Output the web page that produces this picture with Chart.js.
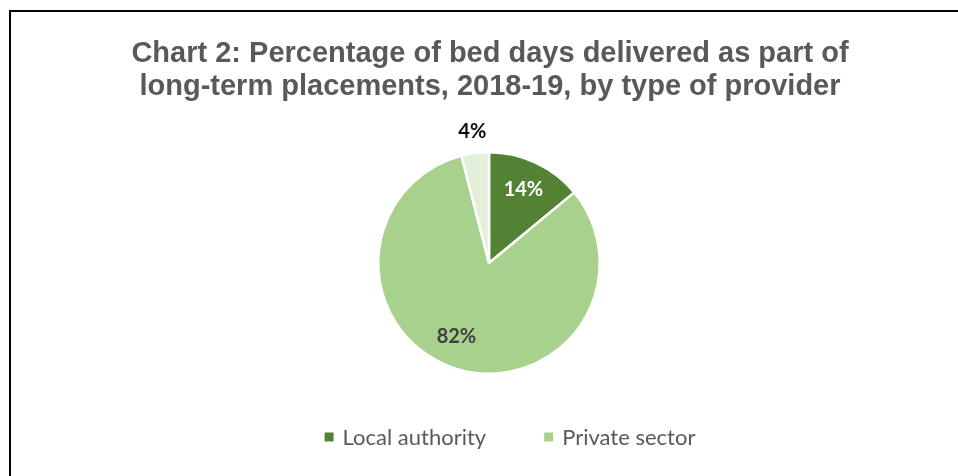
<!DOCTYPE html>
<html>
<head>
<meta charset="utf-8">
<script src="https://cdn.jsdelivr.net/npm/chart.js@4.4.0/dist/chart.umd.min.js"></script>
<style>
  html, body { margin: 0; padding: 0; background: #fff; }
  .wrap { position: relative; width: 958px; height: 476px; overflow: hidden; }
  .frame { position: absolute; left: 9px; top: 10px; width: 2000px; height: 2000px;
           border-left: 2px solid #000; border-top: 2px solid #000; box-sizing: border-box; }
  canvas { position: absolute; left: 0; top: 0; }
</style>
</head>
<body>
<div class="wrap">
  <div class="frame"></div>
  <canvas id="pieChart" width="958" height="476"></canvas>
</div>
<script>
// Bed days by provider type, 2018-19 (%)
const providers = ['Local authority', 'Private sector', 'Voluntary sector'];
const shares = [14, 82, 4];
const sliceColors = ['#548235', '#A9D18E', '#E2F0D9'];
const labelColors = ['#FFFFFF', '#404040', '#0D0D0D'];
const titleLines = ['Chart 2: Percentage of bed days delivered as part of', 'long-term placements, 2018-19, by type of provider'];
const legendItems = ['Local authority', 'Private sector'];

// two-line heading across the full width
const heading = {
    id: 'heading',
    afterDraw(chart) {
        const ctx = chart.ctx;
        ctx.save();
        ctx.font = 'bold 29px "Liberation Sans"';
        ctx.fillStyle = '#595959';
        ctx.textAlign = 'center';
        ctx.textBaseline = 'alphabetic';
        titleLines.forEach((t, i) => ctx.fillText(t, 490, 62 + i * 33));
        ctx.restore();
    }
};

// percentage labels: inside for the big slices, outside for the small one
const sliceLabels = {
    id: 'sliceLabels',
    afterDatasetsDraw(chart) {
        const ctx = chart.ctx;
        const arcs = chart.getDatasetMeta(0).data;
        ctx.save();
        ctx.font = 'bold 20px Lato';
        ctx.textAlign = 'center';
        ctx.textBaseline = 'middle';
        arcs.forEach((arc, i) => {
            let mid = (arc.startAngle + arc.endAngle) / 2;
            if (i === 1) mid += 0.1; // nudge the big slice's label toward the left
            const r = arc.outerRadius * (shares[i] < 8 ? 1.2 : 0.73);
            ctx.fillStyle = labelColors[i];
            ctx.fillText(shares[i] + '%', arc.x + Math.cos(mid) * r, arc.y + Math.sin(mid) * r);
        });
        ctx.restore();
    }
};

// legend for the two main providers only
const bottomLegend = {
    id: 'bottomLegend',
    afterDraw(chart) {
        const ctx = chart.ctx;
        ctx.save();
        ctx.font = '22px Lato';
        ctx.textBaseline = 'middle';
        const box = 9, gap = 9, itemGap = 58;
        const widths = legendItems.map(t => box + gap + ctx.measureText(t).width);
        const total = widths.reduce((a, b) => a + b, 0) + itemGap * (widths.length - 1);
        let x = 510 - total / 2;
        const y = 437;
        legendItems.forEach((t, i) => {
            ctx.fillStyle = sliceColors[i];
            ctx.fillRect(x, y - box / 2, box, box);
            ctx.fillStyle = '#595959';
            ctx.fillText(t, x + box + gap, y + 1);
            x += widths[i] + itemGap;
        });
        ctx.restore();
    }
};

new Chart(document.getElementById('pieChart'), {
    type: 'pie',
    data: {
        labels: providers,
        datasets: [{
            data: shares,
            backgroundColor: sliceColors,
            borderColor: '#FFFFFF',
            borderWidth: 2.5
        }]
    },
    options: {
        responsive: false,
        animation: false,
        layout: { padding: { left: 377, right: 357, top: 151, bottom: 101 } },
        plugins: {
            legend: { display: false },
            tooltip: { enabled: false },
            title: { display: false }
        }
    },
    plugins: [heading, sliceLabels, bottomLegend]
});
</script>
</body>
</html>
